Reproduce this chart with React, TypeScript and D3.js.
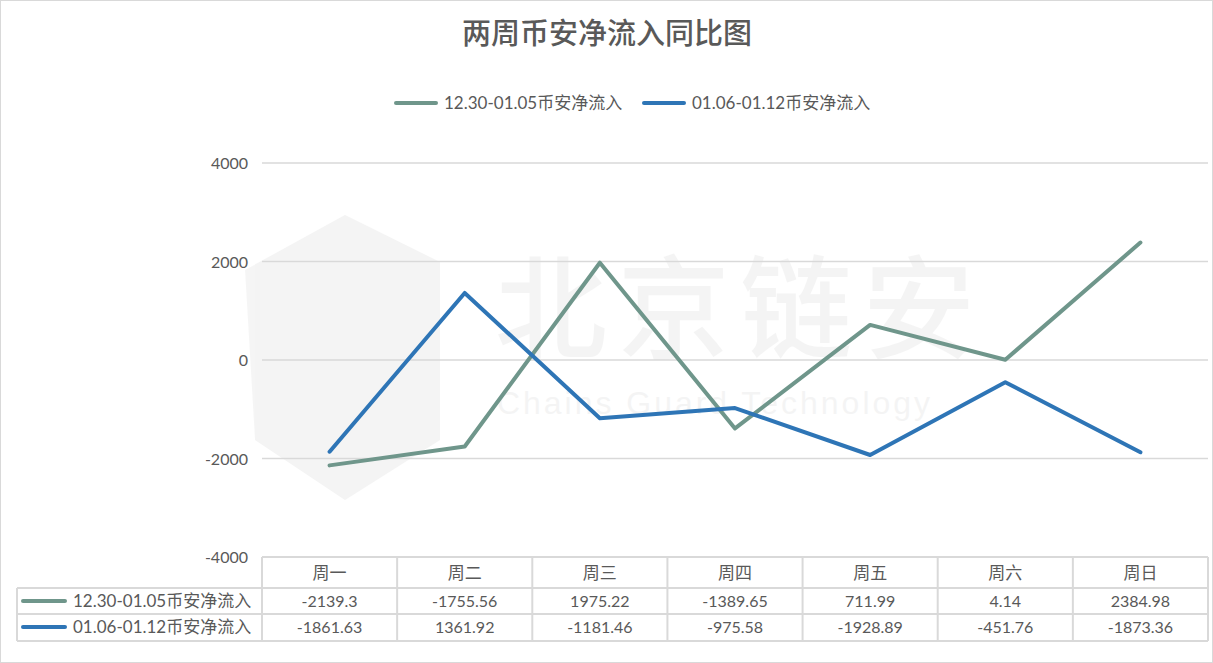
import * as d3 from 'd3'

const days = ['周一', '周二', '周三', '周四', '周五', '周六', '周日']
const seriesNames = ['12.30-01.05币安净流入', '01.06-01.12币安净流入']
const weekA = [-2139.3, -1755.56, 1975.22, -1389.65, 711.99, 4.14, 2384.98]
const weekB = [-1861.63, 1361.92, -1181.46, -975.58, -1928.89, -451.76, -1873.36]
const yTicks = [4000, 2000, 0, -2000, -4000]
const colors = ['#6f968b', '#2e75b6']

const W = 1213
const H = 663
const left = 262
const right = 1208
const top = 163
const bottom = 557
const rowH = [31, 26, 27]
const font = "Lato, 'Noto Sans CJK SC', sans-serif"
const textColor = '#595959'
const gridColor = '#d9d9d9'

export default function App() {
  const x = d3.scaleBand<string>().domain(days).range([left, right])
  const y = d3.scaleLinear().domain([-4000, 4000]).range([bottom, top])
  const cx = (d: string) => (x(d) ?? 0) + x.bandwidth() / 2
  const line = d3.line<number>().x((_d, i) => cx(days[i])).y(d => y(d))
  const series = [weekA, weekB]

  const rowTops = [bottom, bottom + rowH[0], bottom + rowH[0] + rowH[1]]
  const tableBottom = rowTops[2] + rowH[2]

  return (
    <svg width={W} height={H} style={{ position: 'absolute', left: 0, top: 0 }} fontFamily={font}>
      <rect x={0.5} y={0.5} width={W - 1} height={H - 1} fill="#fff" stroke={gridColor} />

      {/* watermark */}
      <g fill="#000" opacity={0.04}>
        <path d="M345,215 L440,262 L440,440 L345,500 L255,440 L245,270 Z" />
        <text x={495} y={350} fontSize={112} fontFamily="'Noto Sans CJK SC', sans-serif" fontWeight={500} textLength={480}>北京链安</text>
        <text x={497} y={414} fontSize={32} fontFamily="'Liberation Sans', sans-serif" textLength={433}>Chains Guard Technology</text>
      </g>

      <text x={607} y={44} textAnchor="middle" fontSize={29} fontWeight={500} fill={textColor}
        fontFamily="'Noto Sans CJK SC', serif">两周币安净流入同比图</text>

      {/* legend */}
      {seriesNames.map((name, i) => {
        const lx = i === 0 ? 394 : 642
        return (
          <g key={name}>
            <line x1={lx + 2} x2={lx + 42} y1={103} y2={103} stroke={colors[i]} strokeWidth={4} strokeLinecap="round" />
            <text x={lx + 50} y={109} fontSize={17} fill={textColor}>{name}</text>
          </g>
        )
      })}

      {/* grid + y axis */}
      {yTicks.map(t => (
        <g key={t}>
          {t !== -4000 && <line x1={left} x2={right} y1={y(t)} y2={y(t)} stroke={gridColor} strokeWidth={1.5} />}
          <text x={248} y={y(t) + 6} textAnchor="end" fontSize={16} fill={textColor}>{t}</text>
        </g>
      ))}

      {/* lines */}
      {series.map((s, i) => (
        <path key={i} d={line(s) ?? ''} fill="none" stroke={colors[i]} strokeWidth={4} strokeLinejoin="round" strokeLinecap="round" />
      ))}

      {/* data table */}
      <g stroke={gridColor} strokeWidth={2} fill="none">
        <line x1={left} x2={right} y1={rowTops[0]} y2={rowTops[0]} />
        <line x1={17} x2={right} y1={rowTops[1]} y2={rowTops[1]} />
        <line x1={17} x2={right} y1={rowTops[2]} y2={rowTops[2]} />
        <line x1={17} x2={right} y1={tableBottom} y2={tableBottom} />
        <line x1={17} x2={17} y1={rowTops[1]} y2={tableBottom} />
        {days.map(d => (
          <line key={d} x1={x(d)} x2={x(d)} y1={rowTops[0]} y2={tableBottom} />
        ))}
        <line x1={right} x2={right} y1={rowTops[0]} y2={tableBottom} />
      </g>
      {days.map(d => (
        <text key={d} x={cx(d)} y={rowTops[0] + 22} textAnchor="middle" fontSize={17} fill={textColor}>{d}</text>
      ))}
      {series.map((s, i) => (
        <g key={i}>
          <line x1={23} x2={65} y1={rowTops[i + 1] + 13} y2={rowTops[i + 1] + 13} stroke={colors[i]} strokeWidth={4} strokeLinecap="round" />
          <text x={73} y={rowTops[i + 1] + 19} fontSize={17} fill={textColor}>{seriesNames[i]}</text>
          {s.map((v, j) => (
            <text key={j} x={cx(days[j])} y={rowTops[i + 1] + 19} textAnchor="middle" fontSize={16} fill={textColor}>{v}</text>
          ))}
        </g>
      ))}
    </svg>
  )
}
